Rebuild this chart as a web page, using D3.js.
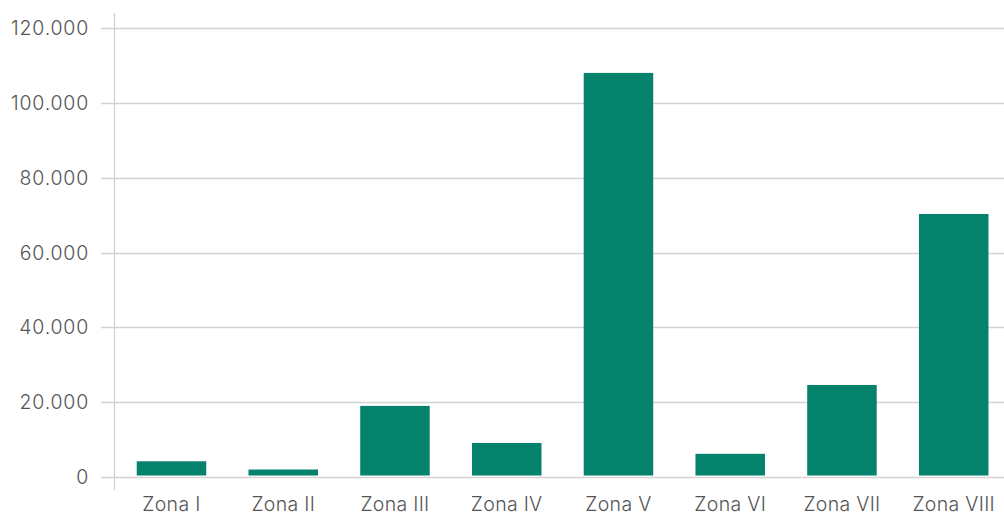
<!DOCTYPE html>
<html><head><meta charset="utf-8">
<script src="https://cdn.jsdelivr.net/npm/d3@7"></script>
<style>
html,body{margin:0;padding:0;background:#fff;}
svg{display:block;}
text{font-family:Inter, "Open Sans", sans-serif;font-weight:300;fill:#555;}
</style></head>
<body>
<svg id="c" width="1004" height="515"></svg>
<script>
const categories = ["Zona I","Zona II","Zona III","Zona IV","Zona V","Zona VI","Zona VII","Zona VIII"];
const values = [4200, 2000, 19000, 9100, 108000, 6200, 24600, 70300];
const yTicks = [0, 20000, 40000, 60000, 80000, 100000, 120000];
const yTickLabels = ["0","20.000","40.000","60.000","80.000","100.000","120.000"];

const svg = d3.select("#c");
const W = 1004, H = 515;
const axisX = 114;
const y = d3.scaleLinear().domain([0,120000]).range([477,28]);
const x = d3.scaleBand().domain(categories).range([115.5,1009.7]).paddingInner(0.378).paddingOuter(0.19);

// gridlines
svg.append("g").selectAll("line").data(yTicks).join("line")
  .attr("x1",101).attr("x2",W)
  .attr("y1",d=>Math.round(y(d))+0.5).attr("y2",d=>Math.round(y(d))+0.5)
  .attr("stroke","#d3d3d3").attr("stroke-width",1.3);

// y axis line
svg.append("line").attr("x1",axisX+0.5).attr("x2",axisX+0.5).attr("y1",13).attr("y2",490)
  .attr("stroke","#d3d3d3").attr("stroke-width",1.3);

// y labels
svg.append("g").selectAll("text").data(yTicks).join("text")
  .attr("x",89).attr("y",d=>y(d)+7)
  .attr("text-anchor","end").attr("font-size",19.5).attr("letter-spacing",0.8)
  .text((d,i)=>yTickLabels[i]);

// bars
svg.append("g").selectAll("rect").data(values).join("rect")
  .attr("x",(d,i)=>x(categories[i]))
  .attr("width",x.bandwidth())
  .attr("y",d=>y(d))
  .attr("height",d=>y(0)-y(d)-1.5)
  .attr("fill","#05826c");

// x labels
svg.append("g").selectAll("text").data(categories).join("text")
  .attr("x",d=>x(d)+x.bandwidth()/2).attr("y",511)
  .attr("text-anchor","middle").attr("font-size",19.5).attr("letter-spacing",0.3)
  .text(d=>d);
</script>
</body></html>
